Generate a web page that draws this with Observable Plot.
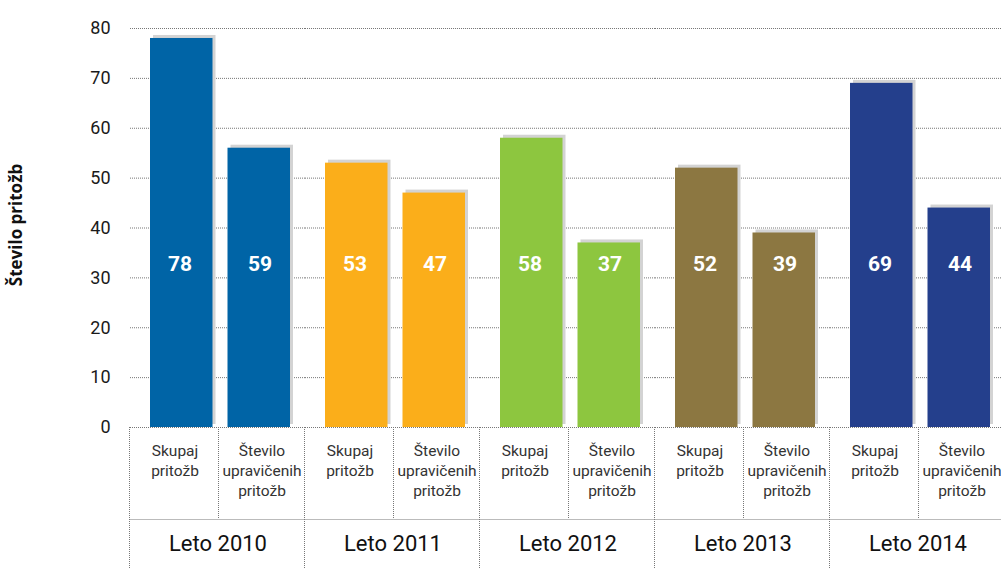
<!DOCTYPE html>
<html>
<head>
<meta charset="utf-8">
<script src="https://cdn.jsdelivr.net/npm/d3@7"></script>
<script src="https://cdn.jsdelivr.net/npm/@observablehq/plot@0.6"></script>
<style>
  html, body { margin: 0; padding: 0; background: #ffffff; }
  #chart svg { display: block; }
</style>
</head>
<body>
<div id="chart"></div>
<script>
// ---- data ----
const years = ["Leto 2010", "Leto 2011", "Leto 2012", "Leto 2013", "Leto 2014"];
const categories = ["Skupaj pritožb", "Število upravičenih pritožb"];
const categoryTickLabels = ["Skupaj\npritožb", "Število\nupravičenih\npritožb"];
const totalValues = [78, 53, 58, 52, 69];          // bar heights, "Skupaj pritožb"
const justifiedValues = [56, 47, 37, 39, 44];      // bar heights, "Število upravičenih pritožb"
const totalLabels = ["78", "53", "58", "52", "69"];
const justifiedLabels = ["59", "47", "37", "39", "44"];
const yearColors = ["#0064a6", "#fbae1a", "#8dc63f", "#8c7741", "#243f8c"];
const yTicks = [0, 10, 20, 30, 40, 50, 60, 70, 80];
const yTitle = "Število pritožb";

const rows = [];
years.forEach((yr, i) => {
  rows.push({year: yr, category: categories[0], value: totalValues[i], label: totalLabels[i]});
  rows.push({year: yr, category: categories[1], value: justifiedValues[i], label: justifiedLabels[i]});
});
const isFirst = d => d.category === categories[0];
const isSecond = d => d.category === categories[1];
const tickLabelOf = c => categoryTickLabels[categories.indexOf(c)];

const FONT = "Roboto, 'Open Sans', sans-serif";
const GRID = "#777777";

const plot = Plot.plot({
  width: 1001,
  height: 568,
  marginTop: 28,
  marginBottom: 141,
  marginLeft: 130,
  marginRight: -4,
  style: {fontFamily: FONT, background: "#ffffff", overflow: "visible"},
  facet: {data: rows, x: "year"},
  fx: {domain: years, padding: 0, label: null},
  x: {domain: categories, padding: 0, label: null},
  y: {domain: [0, 80], label: null},
  color: {domain: years, range: yearColors},
  marks: [
    Plot.gridY(yTicks, {stroke: GRID, strokeOpacity: 1, strokeDasharray: "1,1"}),
    // shadows
    Plot.barY(rows, {filter: isFirst, x: "category", y: "value", fill: "#d3d3d3", dx: 3, dy: -3, insetLeft: 19, insetRight: 5.5}),
    Plot.barY(rows, {filter: isSecond, x: "category", y: "value", fill: "#d3d3d3", dx: 3, dy: -3, insetLeft: 9.5, insetRight: 15}),
    // bars
    Plot.barY(rows, {filter: isFirst, x: "category", y: "value", fill: "year", insetLeft: 19, insetRight: 5.5}),
    Plot.barY(rows, {filter: isSecond, x: "category", y: "value", fill: "year", insetLeft: 9.5, insetRight: 15}),
    // value labels
    Plot.text(rows, {filter: isFirst, x: "category", y: 32.7, text: "label", dx: 5, fill: "#ffffff", fontWeight: "bold", fontSize: 21}),
    Plot.text(rows, {filter: isSecond, x: "category", y: 32.7, text: "label", dx: -2, fill: "#ffffff", fontWeight: "bold", fontSize: 21}),
    // axes
    Plot.axisY(yTicks, {anchor: "left", tickSize: 0, tickPadding: 20, fontSize: 18, fill: "#1a1a1a", label: null}),
    Plot.axisX({anchor: "bottom", tickSize: 0, tickPadding: 14, fontSize: 15.5, lineHeight: 1.3, fill: "#333333", tickFormat: tickLabelOf, label: null}),
    Plot.axisFx({anchor: "bottom", tickSize: 0, tickPadding: 108, fontSize: 22, fill: "#111111", label: null})
  ]
});

document.getElementById("chart").appendChild(plot);

// ---- table grid below the plot, positioned with the plot's own fx scale ----
const svg = d3.select(plot);
const fx = plot.scale("fx");
const bw = fx.bandwidth;
const yBase = 427, yMid = 519, yBottom = 568;
const g = svg.append("g").attr("stroke", GRID).attr("stroke-dasharray", "1,1").attr("fill", "none");
g.append("line").attr("x1", fx.apply(years[0]) - 0.5).attr("x2", 1001).attr("y1", yMid + 0.5).attr("y2", yMid + 0.5);
years.forEach(yr => {
  const x0 = Math.round(fx.apply(yr)) - 0.5;
  g.append("line").attr("x1", x0).attr("x2", x0).attr("y1", yBase).attr("y2", yBottom);
  const xm = Math.round(fx.apply(yr) + bw / 2) + 0.5;
  g.append("line").attr("x1", xm).attr("x2", xm).attr("y1", yBase).attr("y2", yMid);
});

// y axis title
svg.append("text")
  .attr("transform", "translate(15,225) rotate(-90)")
  .attr("text-anchor", "middle")
  .attr("dominant-baseline", "central")
  .attr("font-family", "'Open Sans', sans-serif")
  .attr("font-weight", "bold")
  .attr("font-size", 17)
  .attr("fill", "#111111")
  .text(yTitle);
</script>
</body>
</html>
